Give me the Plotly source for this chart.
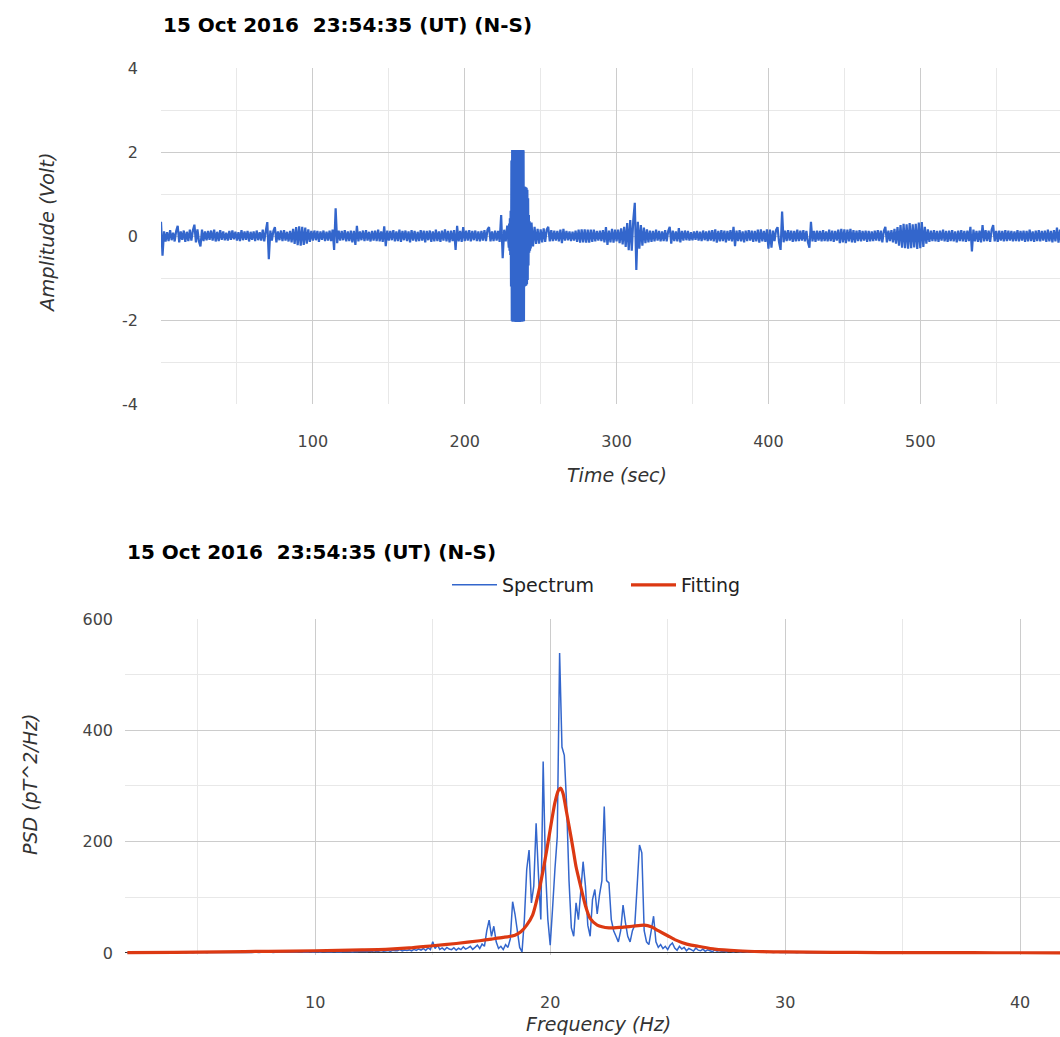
import plotly.graph_objects as go

# ---------------- data ----------------
# Time series (N-S): 1 s samples for t = 0..228 s
amp_a = [
    0.34, -0.47, 0.11, -0.13, 0.09, -0.12, 0.14, -0.10, 0.08, -0.13,
    0.12, 0.24, -0.15, 0.11, -0.09, 0.13, -0.14, 0.10, -0.12, 0.15,
    -0.11, 0.13, 0.27, -0.15, 0.16, -0.13, -0.25, 0.15, -0.12, 0.11,
    -0.10, 0.12, -0.09, 0.13, -0.11, 0.15, -0.13, 0.10, -0.12, 0.14,
    -0.09, 0.11, -0.10, 0.08, -0.11, 0.12, -0.09, 0.13, -0.08, 0.10,
    -0.11, 0.09, -0.12, 0.14, -0.10, 0.11, -0.09, 0.12, -0.13, 0.10,
    -0.09, 0.11, -0.12, 0.13, -0.10, 0.09, -0.11, 0.15, -0.13, 0.12,
    0.33, -0.55, 0.13, -0.11, 0.12, 0.21, -0.15, 0.11, -0.10, 0.13,
    -0.12, 0.14, -0.11, 0.10, -0.13, 0.12, -0.15, 0.17, -0.19, 0.21,
    -0.22, 0.23, -0.23, 0.22, -0.21, 0.20, -0.18, 0.16, -0.14, 0.12,
    -0.11, 0.13, -0.10, 0.12, -0.14, 0.11, -0.09, 0.13, -0.12, 0.10,
    -0.11, 0.13, -0.12, 0.15, -0.33, 0.66, -0.17, 0.13, -0.11, 0.12,
    -0.10, 0.14, -0.13, 0.11, -0.12, 0.13, -0.15, 0.12, -0.21, 0.24,
    -0.13, 0.11, -0.10, 0.13, -0.12, 0.14, -0.11, 0.10, -0.13, 0.12,
    -0.11, 0.13, -0.12, 0.15, -0.13, 0.11, -0.14, 0.23, -0.24, 0.13,
    -0.11, 0.12, -0.10, 0.14, -0.13, 0.11, -0.12, 0.15, -0.14, 0.12,
    -0.10, 0.13, -0.12, 0.11, -0.15, 0.14, -0.11, 0.12, -0.13, 0.10,
    -0.12, 0.14, -0.11, 0.13, -0.15, 0.12, -0.10, 0.13, -0.14, 0.11,
    -0.13, 0.15, -0.12, 0.11, -0.14, 0.13, -0.11, 0.16, -0.13, 0.12,
    -0.15, 0.13, -0.12, 0.14, -0.33, 0.24, -0.13, 0.12, -0.14, 0.21,
    -0.12, 0.13, -0.11, 0.14, -0.13, 0.12, -0.10, 0.13, -0.12, 0.11,
    -0.13, 0.12, -0.11, 0.14, -0.12, 0.15, 0.21, -0.13, 0.11, -0.12,
    0.13, -0.11, 0.12, -0.14, 0.50, -0.53, 0.15, -0.13, 0.25,
]
# 0.25 s samples for the burst, t = 229.00 .. 243.75 s
amp_burst = [
    -0.28, 0.30, -0.35, 0.42, -0.45, 0.60, -1.20, 1.80,
    -2.02, 2.05, -2.04, 2.05, -2.03, 2.04, -2.04, 2.05, -2.02, 2.04, -2.05,
    2.03, -2.04, 2.05, -2.03, 2.04, -2.05, 2.04, -2.03, 2.05, -2.04, 2.03,
    -2.05, 2.04, -2.04, 2.05, -2.03, 2.04, -2.04, 2.05, -2.02, 2.04, -2.03,
    1.18, -1.20, 1.17, -1.19, 1.16, -1.18, 1.15, -1.15, 1.10, -1.05,
    0.90, -0.70, 0.50, -0.40, 0.35, -0.35, 0.30, -0.30, 0.28,
]
# 1 s samples for t = 244..595 s
amp_b = [
    0.32, -0.25, 0.22, -0.19, 0.17, -0.18,
    0.16, -0.15, 0.18, -0.14, 0.15, 0.22, -0.13, 0.14, -0.12, 0.13,
    -0.11, 0.12, -0.13, 0.15, -0.17, 0.17, -0.11, 0.12, -0.10, 0.11,
    -0.12, 0.10, -0.11, 0.13, -0.14, 0.15, -0.16, 0.16, -0.15, 0.16,
    -0.16, 0.15, -0.16, 0.15, -0.14, 0.15, -0.13, 0.12, -0.11, 0.13,
    -0.12, 0.14, -0.15, 0.21, -0.21, 0.13, -0.15, 0.17, -0.16, 0.15,
    -0.13, 0.15, -0.17, 0.18, -0.20, 0.22, -0.26, 0.31, -0.34, 0.38,
    -0.35, 0.38, 0.79, -0.81, 0.34, -0.30, 0.26, -0.23, 0.20, -0.17,
    0.16, -0.15, 0.13, -0.14, 0.12, -0.13, 0.15, -0.11, 0.12, -0.13,
    0.11, -0.12, 0.14, -0.13, 0.12, 0.22, -0.18, 0.13, -0.12, 0.11,
    -0.13, 0.19, -0.15, 0.12, -0.11, 0.13, -0.10, 0.12, -0.11, 0.09,
    -0.10, 0.11, -0.09, 0.12, -0.11, 0.10, -0.12, 0.13, -0.10, 0.11,
    -0.12, 0.13, -0.11, 0.14, -0.13, 0.16, -0.16, 0.12, -0.13, 0.14,
    -0.12, 0.13, -0.15, 0.12, -0.11, 0.14, -0.13, 0.22, -0.24, 0.13,
    -0.12, 0.14, -0.13, 0.11, -0.15, 0.13, -0.12, 0.14, -0.11, 0.13,
    -0.14, 0.12, -0.13, 0.15, -0.16, 0.16, -0.13, 0.12, -0.14, 0.16,
    -0.30, 0.15, -0.28, 0.13, -0.12, 0.14, 0.21, -0.15, -0.33, 0.58,
    -0.15, 0.13, -0.12, 0.14, -0.11, 0.13, -0.14, 0.12, -0.13, 0.15,
    -0.12, 0.13, -0.11, 0.14, -0.13, 0.12, -0.15, -0.28, 0.34, -0.13,
    0.12, -0.14, 0.13, -0.11, 0.12, -0.13, 0.14, -0.12, 0.11, -0.13,
    0.15, -0.12, 0.13, -0.14, 0.12, -0.11, 0.15, -0.17, 0.17, -0.15,
    0.16, -0.17, 0.15, -0.13, 0.17, -0.15, 0.14, -0.16, 0.13, -0.12,
    0.14, -0.13, 0.12, -0.11, 0.13, -0.14, 0.12, -0.13, 0.11, -0.12,
    0.13, -0.11, 0.14, -0.12, 0.13, -0.15, 0.12, 0.22, -0.15, 0.13,
    -0.12, 0.14, -0.15, 0.17, -0.18, 0.21, -0.23, 0.26, -0.28, 0.29,
    -0.29, 0.28, -0.30, 0.31, -0.29, 0.28, -0.27, 0.29, -0.31, 0.32,
    -0.29, 0.33, -0.26, 0.22, -0.18, 0.16, -0.14, 0.13, -0.12, 0.14,
    -0.13, 0.12, -0.14, 0.13, -0.11, 0.15, -0.13, 0.12, -0.14, 0.13,
    -0.12, 0.14, -0.13, 0.11, -0.15, 0.13, -0.12, 0.14, -0.13, 0.12,
    -0.14, 0.13, -0.12, 0.22, -0.37, 0.15, -0.13, 0.12, -0.14, 0.13,
    -0.15, 0.26, -0.13, 0.14, -0.12, 0.13, -0.14, 0.15, 0.26, -0.13,
    0.12, -0.14, 0.13, -0.11, 0.12, -0.13, 0.14, -0.12, 0.13, -0.11,
    0.12, -0.13, 0.11, -0.12, 0.14, -0.13, 0.12, -0.11, 0.13, -0.14,
    0.12, -0.13, 0.15, -0.12, 0.11, -0.14, 0.13, -0.12, 0.14, -0.13,
    0.12, -0.11, 0.13, -0.14, 0.15, -0.13, 0.12, -0.15, 0.14, -0.13,
    0.20, -0.16, 0.15, -0.13, 0.12, -0.14,
]
t_a = list(range(0, len(amp_a)))
t_burst = [229 + 0.25 * i for i in range(len(amp_burst))]
t_b = list(range(244, 244 + len(amp_b)))
time_sec = t_a + t_burst + t_b
amplitude = amp_a + amp_burst + amp_b

# Spectrum, 0.1 Hz bins starting at 2.0 Hz
spec_f0 = 2.0
spec_df = 0.1
spectrum = [
    0.4, 0.6, 0.3, 0.5, 0.7, 0.4, 0.5, 0.3, 0.6, 0.5,
    0.4, 0.7, 0.5, 0.6, 0.4, 0.8, 0.5, 0.6, 0.7, 0.5,
    0.6, 0.8, 0.5, 0.7, 0.9, 0.6, 0.8, 0.7, 0.5, 0.9,
    0.8, 1.0, 0.7, 0.9, 0.6, 1.1, 0.8, 0.9, 1.0, 0.7,
    0.9, 1.2, 0.8, 1.0, 1.3, 0.9, 1.1, 0.8, 1.2, 1.0,
    1.1, 0.9, 1.3, 1.0, 1.4, 1.2, 0.9, 1.5, 1.1, 1.3,
    1.2, 1.6, 1.0, 1.4, 1.7, 1.1, 1.5, 1.3, 1.8, 1.2,
    1.4, 1.9, 1.2, 1.6, 2.0, 1.3, 1.8, 1.5, 2.1, 1.4,
    1.7, 2.2, 1.5, 2.0, 2.4, 1.6, 2.1, 1.8, 2.5, 1.9,
    2.3, 1.8, 2.6, 2.0, 2.8, 2.2, 1.9, 2.7, 2.4, 3.0,
    2.5, 3.2, 2.2, 3.5, 2.8, 4.0, 2.6, 3.3, 4.2, 3.0,
    3.6, 4.5, 2.9, 5.0, 3.8, 4.2, 6.0, 3.5, 5.2, 4.4,
    5.5, 3.8, 6.5, 4.6, 7.2, 5.0, 8.0, 4.5, 9.5, 6.0,
    20.0, 8.0, 14.0, 6.5, 9.0, 5.5, 10.0, 7.0, 6.0, 9.5,
    5.0, 8.5, 6.0, 11.0, 7.0, 9.0, 12.0, 6.5, 10.0, 14.0,
    8.0, 16.0, 12.0, 40.0, 59.0, 30.0, 48.0, 20.0, 8.0, 12.0,
    6.0, 15.0, 10.0, 25.0, 92.0, 70.0, 40.0, 10.0, 2.0, 60.0,
    150.0, 185.0, 90.0, 120.0, 233.0, 140.0, 60.0, 344.0, 150.0, 60.0,
    14.0, 80.0, 150.0, 209.0, 539.0, 370.0, 355.0, 265.0, 130.0, 45.0,
    30.0, 90.0, 60.0, 110.0, 164.0, 120.0, 50.0, 30.0, 96.0, 114.0,
    70.0, 105.0, 130.0, 263.0, 130.0, 126.0, 60.0, 40.0, 30.0, 20.0,
    40.0, 86.0, 55.0, 30.0, 20.0, 40.0, 50.0, 120.0, 194.0, 180.0,
    40.0, 20.0, 15.0, 40.0, 66.0, 20.0, 10.0, 15.0, 8.0, 12.0,
    6.0, 14.0, 18.0, 9.0, 5.0, 12.0, 7.0, 10.0, 4.0, 8.0,
    6.0, 3.5, 9.0, 5.0, 4.0, 7.0, 3.0, 5.5, 4.0, 2.5,
    5.0, 3.0, 4.5, 2.5, 3.5, 2.0, 4.0, 3.0, 2.0, 3.5,
    2.5, 1.8, 3.0, 2.0, 1.5, 2.6, 1.8, 1.2, 2.2, 1.5,
    1.3, 2.0, 1.0, 1.6, 1.2, 0.9, 1.5, 1.1, 0.8, 1.3,
    0.9, 1.1, 0.7, 1.0, 0.8, 0.6, 0.9, 0.7, 1.0, 0.6,
    0.8, 0.5, 0.9, 0.6, 0.7, 0.5, 0.8, 0.6, 0.4, 0.7,
    0.5, 0.7, 0.4, 0.6, 0.5, 0.3, 0.6, 0.4, 0.5, 0.3,
    0.5, 0.4, 0.6, 0.3, 0.4, 0.5, 0.3, 0.4, 0.6, 0.3,
    0.4, 0.3, 0.5, 0.2, 0.4, 0.3, 0.5, 0.3, 0.2, 0.4,
    0.3, 0.4, 0.2, 0.3, 0.5, 0.2, 0.3, 0.4, 0.2, 0.3,
    0.3, 0.2, 0.4, 0.3, 0.2, 0.3, 0.4, 0.2, 0.3, 0.2,
    0.2, 0.3, 0.2, 0.4, 0.2, 0.3, 0.2, 0.3, 0.2, 0.3,
    0.3, 0.2, 0.3, 0.2, 0.2, 0.3, 0.2, 0.3, 0.2, 0.2,
    0.2, 0.3, 0.2, 0.2, 0.3, 0.2, 0.2, 0.3, 0.2, 0.2,
    0.2, 0.2, 0.3, 0.2, 0.2, 0.2, 0.3, 0.2, 0.2, 0.2,
    0.2, 0.2, 0.2, 0.3, 0.2, 0.2, 0.2, 0.2, 0.3, 0.2,
]
spec_freq = [round(spec_f0 + i * spec_df, 2) for i in range(len(spectrum))]

# Fitted curve
fit_freq = [2, 4, 6, 8, 10, 12, 13, 14, 15, 16, 17, 17.5, 18, 18.5, 18.75, 19.0,
            19.25, 19.5, 19.75, 20.0, 20.2, 20.35, 20.45, 20.55, 20.7, 20.9, 21.0,
            21.1, 21.3, 21.5, 21.7, 22.0, 22.5, 23.0, 23.5, 24.0, 24.3, 24.6, 25.0,
            25.3, 25.6, 26.0, 26.3, 27, 28, 29, 30, 32, 34, 36, 38, 40, 42]
fit_psd = [0.5, 1.0, 2.0, 3.0, 4.0, 5.5, 6.5, 9.0, 13, 17, 22, 25, 28, 32, 38, 50,
           68, 108, 160, 222, 270, 292, 296, 286, 252, 205, 180,
           155, 119, 85, 62, 50, 45, 46, 48, 50, 47, 40, 31,
           24, 19, 14, 12, 7, 4, 2.5, 1.8, 1.2, 0.8, 0.6, 0.5, 0.4, 0.3]

title_text = "15 Oct 2016\u00a0 23:54:35 (UT) (N-S)"
top_xticks = [100, 200, 300, 400, 500]
top_yticks = [-4, -2, 0, 2, 4]
top_ylabels = ["-4", "-2", "0", "2", "4"]
bot_xticks = [10, 20, 30, 40]
bot_yticks = [0, 200, 400, 600]

# ---------------- layout helpers ----------------
W, H = 1060, 1037
def fx(p):
    return p / W
def fy(p):
    return 1 - p / H

FONT = "DejaVu Sans"
BLUE = "#3366cc"
RED = "#dc3912"
GRID = "#cccccc"
MINOR = "#e8e8e8"
TICKC = "#444444"
TITLEC = "#333333"

fig = go.Figure()
fig.add_trace(go.Scatter(x=time_sec, y=amplitude, mode="lines",
                         line=dict(color=BLUE, width=2.2, simplify=False), showlegend=False,
                         xaxis="x", yaxis="y"))
fig.add_trace(go.Scatter(x=spec_freq, y=spectrum, mode="lines", name="Spectrum",
                         line=dict(color=BLUE, width=1.5, simplify=False), xaxis="x2", yaxis="y2"))
fig.add_trace(go.Scatter(x=fit_freq, y=fit_psd, mode="lines", name="Fitting",
                         line=dict(color=RED, width=3.2, shape="spline", smoothing=0.6),
                         xaxis="x2", yaxis="y2"))

common = dict(showline=False, ticks="", automargin=False, fixedrange=True,
              tickfont=dict(family=FONT, size=16, color=TICKC),
              gridcolor=GRID, gridwidth=1, showgrid=True)

fig.update_layout(
    width=W, height=H,
    margin=dict(l=0, r=0, t=0, b=0),
    paper_bgcolor="white", plot_bgcolor="white",
    font=dict(family=FONT),
    xaxis=dict(domain=[fx(161), 1.0], range=[0, 592], anchor="y",
               tickmode="array", tickvals=top_xticks, ticklabelstandoff=26,
               zeroline=False,
               minor=dict(tickmode="linear", tick0=0, dtick=50, showgrid=True,
                          gridcolor=MINOR, gridwidth=1),
               **common),
    yaxis=dict(domain=[fy(404), fy(68)], range=[-4, 4], anchor="x",
               tickmode="array", tickvals=top_yticks, ticktext=top_ylabels,
               ticklabelstandoff=22, zeroline=False,
               minor=dict(tickmode="linear", tick0=0, dtick=1, showgrid=True,
                          gridcolor=MINOR, gridwidth=1),
               **common),
    xaxis2=dict(domain=[fx(125), 1.0], range=[1.9, 41.7], anchor="y2",
                tickmode="array", tickvals=bot_xticks, ticklabelstandoff=36,
                zeroline=False,
                minor=dict(tickmode="linear", tick0=0, dtick=5, showgrid=True,
                           gridcolor=MINOR, gridwidth=1),
                **common),
    yaxis2=dict(domain=[fy(955.2), fy(619)], range=[-4, 600], anchor="x2",
                tickmode="array", tickvals=bot_yticks, ticklabelstandoff=11,
                zeroline=True, zerolinecolor="#333333", zerolinewidth=1,
                minor=dict(tickmode="linear", tick0=0, dtick=100, showgrid=True,
                           gridcolor=MINOR, gridwidth=1),
                **common),
    legend=dict(orientation="h", x=fx(626), xanchor="center", y=fy(585), yanchor="middle",
                font=dict(family=FONT, size=19, color="#222222"),
                bgcolor="rgba(0,0,0,0)", itemwidth=45, entrywidth=119),
    showlegend=True,
)

ann = []
ann.append(dict(text="<b>" + title_text + "</b>", x=fx(161), y=fy(25), xanchor="left",
                yanchor="middle", font=dict(family=FONT, size=20, color="#000000")))
ann.append(dict(text="<b>" + title_text + "</b>", x=fx(125), y=fy(552), xanchor="left",
                yanchor="middle", font=dict(family=FONT, size=20, color="#000000")))
ann.append(dict(text="<i>Amplitude (Volt)</i>", x=fx(47), y=fy(233), textangle=-90,
                xanchor="center", yanchor="middle",
                font=dict(family=FONT, size=19.5, color=TITLEC)))
ann.append(dict(text="<i>Time (sec)</i>", x=fx(617), y=fy(475), xanchor="center",
                yanchor="middle", font=dict(family=FONT, size=19, color=TITLEC)))
ann.append(dict(text="<i>PSD (pT^2/Hz)</i>", x=fx(30), y=fy(785), textangle=-90,
                xanchor="center", yanchor="middle",
                font=dict(family=FONT, size=19, color=TITLEC)))
ann.append(dict(text="<i>Frequency (Hz)</i>", x=fx(598), y=fy(1024), xanchor="center",
                yanchor="middle", font=dict(family=FONT, size=19, color=TITLEC)))
for a in ann:
    a.update(xref="paper", yref="paper", showarrow=False)
fig.update_layout(annotations=ann)

fig.write_html("out.html", config={"displayModeBar": False},
               post_script="document.body.style.margin='0';document.body.style.overflow='hidden';")
